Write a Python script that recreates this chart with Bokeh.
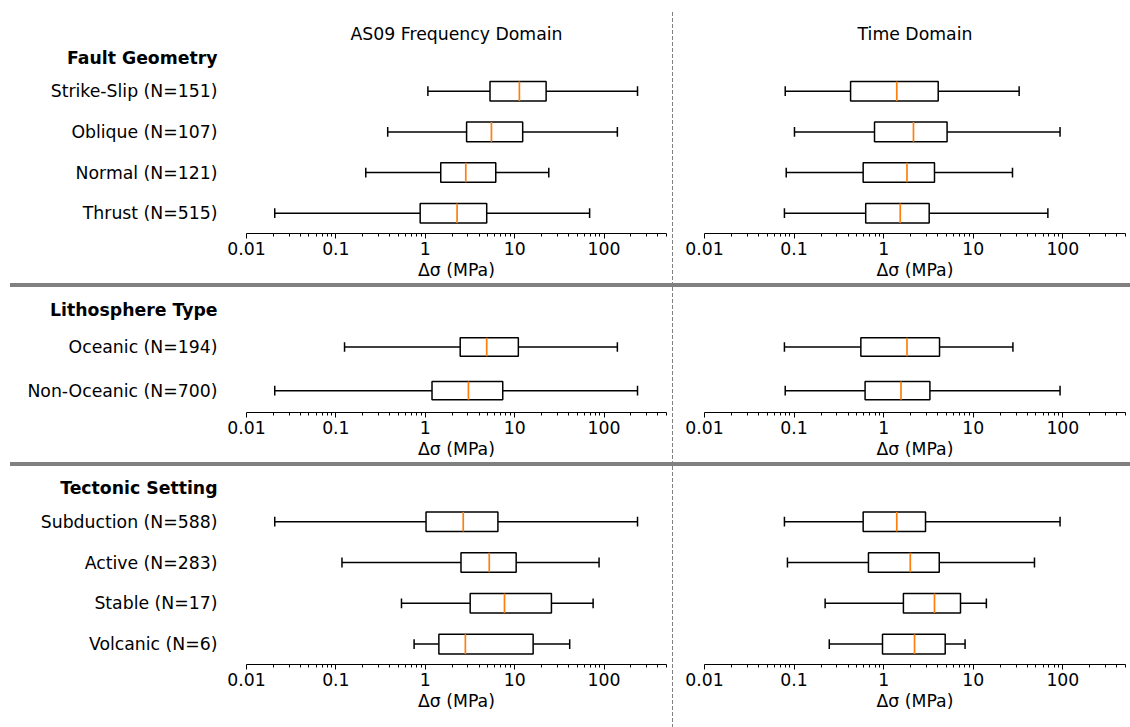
from bokeh.plotting import figure
from bokeh.models import ColumnDataSource, FixedTicker, Range1d, Div, NumeralTickFormatter, Title
from bokeh.layouts import column, row
from bokeh.embed import file_html
from bokeh.resources import INLINE

FONT = "DejaVu Sans"
FS = "17.3px"

titles = ["AS09 Frequency Domain", "Time Domain"]
headers = ["Fault Geometry", "Lithosphere Type", "Tectonic Setting"]
x_label = "Δσ (MPa)"

# ---- Fault geometry
fault_labels = ["Strike-Slip (N=151)", "Oblique (N=107)", "Normal (N=121)", "Thrust (N=515)"]
fault_freq_lo = [1.07, 0.38, 0.216, 0.0207]
fault_freq_q1 = [5.3, 2.9, 1.49, 0.877]
fault_freq_med = [11.3, 5.5, 2.84, 2.27]
fault_freq_q3 = [22.5, 12.3, 6.15, 4.87]
fault_freq_hi = [237, 141, 24.1, 69]
fault_time_lo = [0.0796, 0.101, 0.0817, 0.078]
fault_time_q1 = [0.427, 0.79, 0.59, 0.63]
fault_time_med = [1.40, 2.15, 1.82, 1.53]
fault_time_q3 = [4.06, 5.1, 3.69, 3.22]
fault_time_hi = [32.5, 93, 27.4, 68]

# ---- Lithosphere type
litho_labels = ["Oceanic (N=194)", "Non-Oceanic (N=700)"]
litho_freq_lo = [0.125, 0.0207]
litho_freq_q1 = [2.46, 1.19]
litho_freq_med = [4.87, 3.04]
litho_freq_q3 = [11.0, 7.36]
litho_freq_hi = [141, 237]
litho_time_lo = [0.078, 0.0796]
litho_time_q1 = [0.556, 0.62]
litho_time_med = [1.82, 1.56]
litho_time_q3 = [4.2, 3.28]
litho_time_hi = [27.7, 93]

# ---- Tectonic setting
tect_labels = ["Subduction (N=588)", "Active (N=283)", "Stable (N=17)", "Volcanic (N=6)"]
tect_freq_lo = [0.0207, 0.117, 0.542, 0.75]
tect_freq_q1 = [1.02, 2.51, 3.18, 1.42]
tect_freq_med = [2.66, 5.2, 7.7, 2.81]
tect_freq_q3 = [6.5, 10.4, 25.8, 16.1]
tect_freq_hi = [237, 88, 75.5, 41.3]
tect_time_lo = [0.078, 0.0843, 0.222, 0.247]
tect_time_q1 = [0.59, 0.676, 1.66, 0.97]
tect_time_med = [1.40, 1.98, 3.69, 2.21]
tect_time_q3 = [2.93, 4.17, 7.2, 4.86]
tect_time_hi = [93, 48.2, 14.0, 8.1]

x_ticks = [0.01, 0.1, 1, 10, 100]
x_tick_labels = ["0.01", "0.1", "1", "10", "100"]
x_minor = [m * d for d in [0.01, 0.1, 1, 10, 100] for m in range(2, 10) if m * d <= 500]

LEFT_W, LEFT_MBL, LEFT_MBR = 672, 246, 6
RIGHT_W, RIGHT_MBL, RIGHT_MBR = 457, 31, 5
LABEL_GAP = 29


def make_panel(labels, lo, q1, med, q3, hi, left, title, header, height,
               mb_top, mb_bottom, y_end, box_h, cap_h):
    n = len(labels)
    pos = [n - i for i in range(n)]
    src = ColumnDataSource(dict(
        y=pos, lo=lo, q1=q1, med=med, q3=q3, hi=hi,
        ylo=[p - box_h / 2 for p in pos], yhi=[p + box_h / 2 for p in pos],
        clo=[p - cap_h / 2 for p in pos], chi=[p + cap_h / 2 for p in pos],
    ))
    if left:
        width, mbl, mbr = LEFT_W, LEFT_MBL, LEFT_MBR
    else:
        width, mbl, mbr = RIGHT_W, RIGHT_MBL, RIGHT_MBR
    p = figure(width=width, height=height, x_axis_type="log",
               x_range=Range1d(0.01, 500), y_range=Range1d(0.5, y_end),
               output_backend="svg", toolbar_location=None,
               min_border_left=mbl, min_border_right=mbr,
               min_border_top=mb_top, min_border_bottom=mb_bottom,
               title=None)
    p.margin = 0
    p.outline_line_color = None
    p.grid.visible = False
    p.background_fill_color = "white"
    p.border_fill_color = "white"

    if header is not None:
        frame_w = width - mbl - mbr
        p.add_layout(Title(text=header, align="right", offset=frame_w + LABEL_GAP,
                           text_font=FONT, text_font_size=FS, text_font_style="bold",
                           text_color="black", standoff=5), "above")
    if title is not None:
        if header is None:
            # spacer of the same height as a header row, so both titles line up
            p.add_layout(Title(text=" ", text_font=FONT, text_font_size=FS,
                               text_font_style="bold", standoff=5), "above")
        p.add_layout(Title(text=title, align="center", text_font=FONT, text_font_size=FS,
                           text_font_style="normal", text_color="black", standoff=0), "above")

    lw = 1.5
    p.segment(x0="lo", y0="y", x1="q1", y1="y", source=src, line_color="black", line_width=lw)
    p.segment(x0="q3", y0="y", x1="hi", y1="y", source=src, line_color="black", line_width=lw)
    p.segment(x0="lo", y0="clo", x1="lo", y1="chi", source=src, line_color="black", line_width=lw)
    p.segment(x0="hi", y0="clo", x1="hi", y1="chi", source=src, line_color="black", line_width=lw)
    p.quad(left="q1", right="q3", bottom="ylo", top="yhi", source=src,
           fill_color="white", line_color="black", line_width=lw)
    p.segment(x0="med", y0="ylo", x1="med", y1="yhi", source=src,
              line_color="#ff7f0e", line_width=1.7)

    xa = p.xaxis[0]
    xa.ticker = FixedTicker(ticks=x_ticks, minor_ticks=x_minor)
    xa.formatter = NumeralTickFormatter(format="0.[00]")
    xa.major_label_overrides = dict(zip(x_ticks, x_tick_labels))
    xa.axis_label = x_label
    xa.axis_label_text_font = FONT
    xa.axis_label_text_font_size = FS
    xa.axis_label_text_font_style = "normal"
    xa.axis_label_text_color = "black"
    xa.axis_label_standoff = 2
    xa.major_label_text_font = FONT
    xa.major_label_text_font_size = FS
    xa.major_label_text_color = "black"
    xa.major_label_standoff = 3
    xa.axis_line_color = "black"
    xa.axis_line_width = 1.2
    xa.major_tick_line_color = "black"
    xa.minor_tick_line_color = "black"
    xa.major_tick_in = 0
    xa.major_tick_out = 5
    xa.minor_tick_in = 0
    xa.minor_tick_out = 3

    ya = p.yaxis[0]
    if left:
        ya.ticker = FixedTicker(ticks=pos, minor_ticks=[])
        ya.major_label_overrides = {k: v for k, v in zip(pos, labels)}
        ya.axis_line_color = None
        ya.major_tick_line_color = None
        ya.minor_tick_line_color = None
        ya.major_tick_in = 0
        ya.major_tick_out = 0
        ya.major_label_standoff = LABEL_GAP
        ya.major_label_text_font = FONT
        ya.major_label_text_font_size = FS
        ya.major_label_text_color = "black"
    else:
        ya.visible = False
    return p


DASH = "repeating-linear-gradient(to bottom, #808080 0px, #808080 4px, transparent 4px, transparent 6px)"


def vline(h, top_gap=0):
    bg = DASH if top_gap == 0 else f"linear-gradient(to bottom, white {top_gap}px, transparent {top_gap}px), " + DASH
    return Div(width=1, height=h, margin=0, styles={"background": bg})


def hsep():
    return row(Div(width=10, height=4, margin=0),
               Div(width=1120, height=4, margin=0, styles={"background-color": "#808080"}),
               spacing=0)


H1, H2, H3 = 283, 175, 261
r1 = row(
    make_panel(fault_labels, fault_freq_lo, fault_freq_q1, fault_freq_med, fault_freq_q3, fault_freq_hi,
               True, titles[0], headers[0], H1, 70, 50, 4.51, 0.48, 0.24),
    vline(H1, 10),
    make_panel(fault_labels, fault_time_lo, fault_time_q1, fault_time_med, fault_time_q3, fault_time_hi,
               False, titles[1], None, H1, 70, 50, 4.51, 0.48, 0.24),
    spacing=0)
r2 = row(
    make_panel(litho_labels, litho_freq_lo, litho_freq_q1, litho_freq_med, litho_freq_q3, litho_freq_hi,
               True, None, headers[1], H2, 35, 50, 2.56, 0.42, 0.22),
    vline(H2),
    make_panel(litho_labels, litho_time_lo, litho_time_q1, litho_time_med, litho_time_q3, litho_time_hi,
               False, None, None, H2, 35, 50, 2.56, 0.42, 0.22),
    spacing=0)
r3 = row(
    make_panel(tect_labels, tect_freq_lo, tect_freq_q1, tect_freq_med, tect_freq_q3, tect_freq_hi,
               True, None, headers[2], H3, 34, 63, 4.52, 0.48, 0.24),
    vline(H3),
    make_panel(tect_labels, tect_time_lo, tect_time_q1, tect_time_med, tect_time_q3, tect_time_hi,
               False, None, None, H3, 34, 63, 4.52, 0.48, 0.24),
    spacing=0)

layout = column(r1, hsep(), r2, hsep(), r3, spacing=0)

open("out.html", "w").write(file_html(layout, INLINE))
